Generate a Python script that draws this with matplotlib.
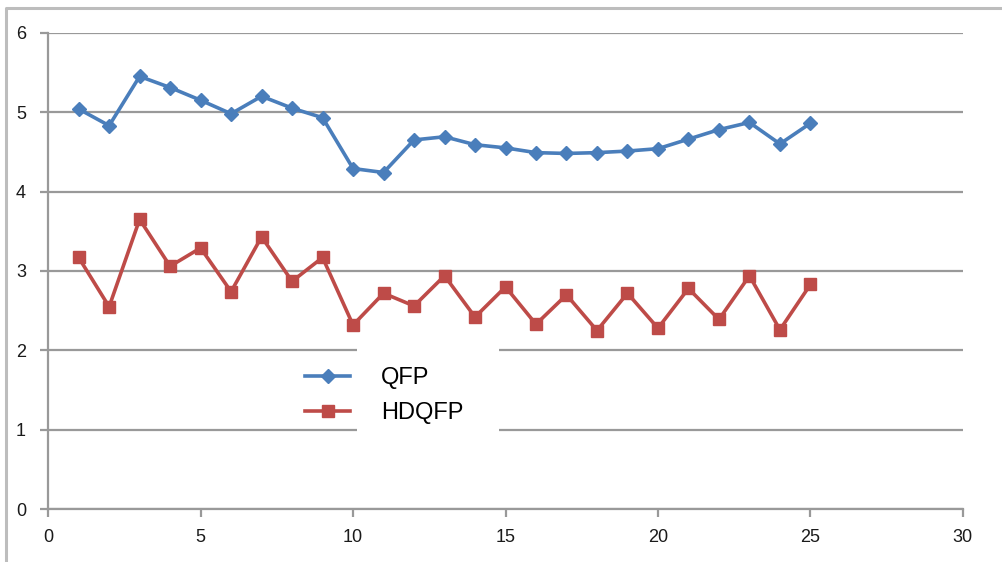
import numpy as np
import matplotlib
matplotlib.use("Agg")
import matplotlib.pyplot as plt
from matplotlib.patches import Rectangle

x = np.arange(1, 26)
qfp = [5.04, 4.83, 5.45, 5.31, 5.15, 4.98, 5.20, 5.05, 4.93, 4.29,
       4.24, 4.65, 4.69, 4.59, 4.55, 4.49, 4.48, 4.49, 4.51, 4.54,
       4.66, 4.78, 4.87, 4.60, 4.86]
hdqfp = [3.17, 2.55, 3.65, 3.06, 3.29, 2.74, 3.43, 2.87, 3.17, 2.32,
         2.72, 2.56, 2.94, 2.42, 2.80, 2.33, 2.70, 2.25, 2.72, 2.28,
         2.78, 2.39, 2.94, 2.26, 2.83]
labels = ["QFP", "HDQFP"]

plt.rcParams['font.family'] = ['Liberation Sans', 'DejaVu Sans']

fig = plt.figure(figsize=(10.03, 5.62), dpi=100)

# outer chart border (top and left edges visible)
border = fig.add_axes([0, 0, 1, 1], zorder=-5)
border.set_xlim(0, 1003)
border.set_ylim(562, 0)
border.axis('off')
border.plot([6, 6, 1010], [570, 8, 8], color='#bdbdbd', lw=2.2, solid_joinstyle='round')

ax = fig.add_axes([0.048, 0.0938, 0.912, 0.848])
ax.patch.set_alpha(0)

ax.plot(x, qfp, color='#4a7ebb', lw=2.6, marker='D', ms=7.5, label=labels[0], zorder=3)
ax.plot(x, hdqfp, color='#be4b48', lw=2.6, marker='s', ms=8.5, label=labels[1], zorder=3)

ax.set_xlim(0, 30)
ax.set_ylim(0, 6)
ax.set_xticks(range(0, 31, 5))
ax.set_yticks(range(0, 7))
ax.yaxis.grid(True, color='#999999', lw=1.6, zorder=0.5)
ax.set_axisbelow(True)
for s in ['top', 'right']:
    ax.spines[s].set_visible(False)
for s in ['left', 'bottom']:
    ax.spines[s].set_color('#999999')
    ax.spines[s].set_linewidth(1.6)
ax.tick_params(axis='both', colors='#999999', length=6, width=1.6, labelsize=13,
               labelcolor='#1a1a1a')
ax.tick_params(axis='y', pad=10)
ax.tick_params(axis='x', pad=8)

# white patch behind the legend text that breaks the gridlines
ax.add_patch(Rectangle((0.338, 0.15), 0.155, 0.195, transform=ax.transAxes,
                       facecolor='white', edgecolor='none', zorder=1))

leg = ax.legend(loc='upper left', bbox_to_anchor=(0.281, 0.298), borderaxespad=0,
                fontsize=17, frameon=False, borderpad=0,
                handlelength=1.9, handletextpad=1.3, labelspacing=0.55)

fig.savefig('out.png', dpi=100)
